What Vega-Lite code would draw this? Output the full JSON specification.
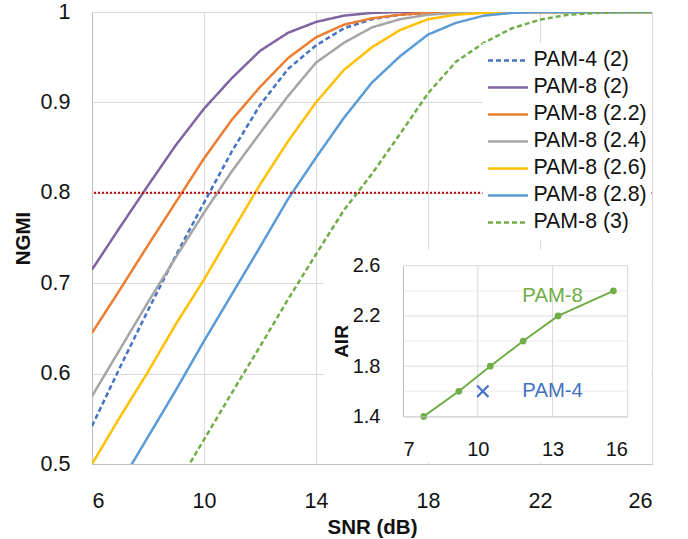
{
  "$schema": "https://vega.github.io/schema/vega-lite/v6.json",
  "width": 560,
  "height": 452,
  "autosize": "none",
  "padding": {"left": 92, "top": 12, "right": 36, "bottom": 75},
  "background": "white",
  "config": {"view": {"stroke": null}, "font": "Liberation Sans"},
  "datasets": {
    "main": [
      {"series":"PAM-4 (2)","snr":6,"ngmi":0.542},{"series":"PAM-4 (2)","snr":7,"ngmi":0.607},{"series":"PAM-4 (2)","snr":8,"ngmi":0.670},{"series":"PAM-4 (2)","snr":9,"ngmi":0.731},{"series":"PAM-4 (2)","snr":10,"ngmi":0.789},{"series":"PAM-4 (2)","snr":11,"ngmi":0.846},{"series":"PAM-4 (2)","snr":12,"ngmi":0.897},{"series":"PAM-4 (2)","snr":13,"ngmi":0.937},{"series":"PAM-4 (2)","snr":14,"ngmi":0.963},{"series":"PAM-4 (2)","snr":15,"ngmi":0.982},{"series":"PAM-4 (2)","snr":16,"ngmi":0.992},{"series":"PAM-4 (2)","snr":17,"ngmi":0.997},{"series":"PAM-4 (2)","snr":18,"ngmi":0.999},{"series":"PAM-4 (2)","snr":19,"ngmi":1},{"series":"PAM-4 (2)","snr":20,"ngmi":1},{"series":"PAM-4 (2)","snr":21,"ngmi":1},{"series":"PAM-4 (2)","snr":22,"ngmi":1},{"series":"PAM-4 (2)","snr":23,"ngmi":1},{"series":"PAM-4 (2)","snr":24,"ngmi":1},{"series":"PAM-4 (2)","snr":25,"ngmi":1},{"series":"PAM-4 (2)","snr":26,"ngmi":1},
      {"series":"PAM-8 (2)","snr":6,"ngmi":0.715},{"series":"PAM-8 (2)","snr":7,"ngmi":0.762},{"series":"PAM-8 (2)","snr":8,"ngmi":0.808},{"series":"PAM-8 (2)","snr":9,"ngmi":0.853},{"series":"PAM-8 (2)","snr":10,"ngmi":0.893},{"series":"PAM-8 (2)","snr":11,"ngmi":0.927},{"series":"PAM-8 (2)","snr":12,"ngmi":0.957},{"series":"PAM-8 (2)","snr":13,"ngmi":0.977},{"series":"PAM-8 (2)","snr":14,"ngmi":0.989},{"series":"PAM-8 (2)","snr":15,"ngmi":0.996},{"series":"PAM-8 (2)","snr":16,"ngmi":0.999},{"series":"PAM-8 (2)","snr":17,"ngmi":1},{"series":"PAM-8 (2)","snr":18,"ngmi":1},{"series":"PAM-8 (2)","snr":19,"ngmi":1},{"series":"PAM-8 (2)","snr":20,"ngmi":1},{"series":"PAM-8 (2)","snr":21,"ngmi":1},{"series":"PAM-8 (2)","snr":22,"ngmi":1},{"series":"PAM-8 (2)","snr":23,"ngmi":1},{"series":"PAM-8 (2)","snr":24,"ngmi":1},{"series":"PAM-8 (2)","snr":25,"ngmi":1},{"series":"PAM-8 (2)","snr":26,"ngmi":1},
      {"series":"PAM-8 (2.2)","snr":6,"ngmi":0.645},{"series":"PAM-8 (2.2)","snr":7,"ngmi":0.693},{"series":"PAM-8 (2.2)","snr":8,"ngmi":0.742},{"series":"PAM-8 (2.2)","snr":9,"ngmi":0.790},{"series":"PAM-8 (2.2)","snr":10,"ngmi":0.838},{"series":"PAM-8 (2.2)","snr":11,"ngmi":0.881},{"series":"PAM-8 (2.2)","snr":12,"ngmi":0.917},{"series":"PAM-8 (2.2)","snr":13,"ngmi":0.949},{"series":"PAM-8 (2.2)","snr":14,"ngmi":0.972},{"series":"PAM-8 (2.2)","snr":15,"ngmi":0.986},{"series":"PAM-8 (2.2)","snr":16,"ngmi":0.993},{"series":"PAM-8 (2.2)","snr":17,"ngmi":0.997},{"series":"PAM-8 (2.2)","snr":18,"ngmi":0.999},{"series":"PAM-8 (2.2)","snr":19,"ngmi":1},{"series":"PAM-8 (2.2)","snr":20,"ngmi":1},{"series":"PAM-8 (2.2)","snr":21,"ngmi":1},{"series":"PAM-8 (2.2)","snr":22,"ngmi":1},{"series":"PAM-8 (2.2)","snr":23,"ngmi":1},{"series":"PAM-8 (2.2)","snr":24,"ngmi":1},{"series":"PAM-8 (2.2)","snr":25,"ngmi":1},{"series":"PAM-8 (2.2)","snr":26,"ngmi":1},
      {"series":"PAM-8 (2.4)","snr":6,"ngmi":0.575},{"series":"PAM-8 (2.4)","snr":7,"ngmi":0.627},{"series":"PAM-8 (2.4)","snr":8,"ngmi":0.679},{"series":"PAM-8 (2.4)","snr":9,"ngmi":0.729},{"series":"PAM-8 (2.4)","snr":10,"ngmi":0.778},{"series":"PAM-8 (2.4)","snr":11,"ngmi":0.824},{"series":"PAM-8 (2.4)","snr":12,"ngmi":0.866},{"series":"PAM-8 (2.4)","snr":13,"ngmi":0.907},{"series":"PAM-8 (2.4)","snr":14,"ngmi":0.944},{"series":"PAM-8 (2.4)","snr":15,"ngmi":0.966},{"series":"PAM-8 (2.4)","snr":16,"ngmi":0.983},{"series":"PAM-8 (2.4)","snr":17,"ngmi":0.992},{"series":"PAM-8 (2.4)","snr":18,"ngmi":0.997},{"series":"PAM-8 (2.4)","snr":19,"ngmi":0.999},{"series":"PAM-8 (2.4)","snr":20,"ngmi":1},{"series":"PAM-8 (2.4)","snr":21,"ngmi":1},{"series":"PAM-8 (2.4)","snr":22,"ngmi":1},{"series":"PAM-8 (2.4)","snr":23,"ngmi":1},{"series":"PAM-8 (2.4)","snr":24,"ngmi":1},{"series":"PAM-8 (2.4)","snr":25,"ngmi":1},{"series":"PAM-8 (2.4)","snr":26,"ngmi":1},
      {"series":"PAM-8 (2.6)","snr":6,"ngmi":0.500},{"series":"PAM-8 (2.6)","snr":7,"ngmi":0.552},{"series":"PAM-8 (2.6)","snr":8,"ngmi":0.602},{"series":"PAM-8 (2.6)","snr":9,"ngmi":0.655},{"series":"PAM-8 (2.6)","snr":10,"ngmi":0.704},{"series":"PAM-8 (2.6)","snr":11,"ngmi":0.757},{"series":"PAM-8 (2.6)","snr":12,"ngmi":0.809},{"series":"PAM-8 (2.6)","snr":13,"ngmi":0.857},{"series":"PAM-8 (2.6)","snr":14,"ngmi":0.900},{"series":"PAM-8 (2.6)","snr":15,"ngmi":0.936},{"series":"PAM-8 (2.6)","snr":16,"ngmi":0.961},{"series":"PAM-8 (2.6)","snr":17,"ngmi":0.980},{"series":"PAM-8 (2.6)","snr":18,"ngmi":0.992},{"series":"PAM-8 (2.6)","snr":19,"ngmi":0.997},{"series":"PAM-8 (2.6)","snr":20,"ngmi":0.999},{"series":"PAM-8 (2.6)","snr":21,"ngmi":1},{"series":"PAM-8 (2.6)","snr":22,"ngmi":1},{"series":"PAM-8 (2.6)","snr":23,"ngmi":1},{"series":"PAM-8 (2.6)","snr":24,"ngmi":1},{"series":"PAM-8 (2.6)","snr":25,"ngmi":1},{"series":"PAM-8 (2.6)","snr":26,"ngmi":1},
      {"series":"PAM-8 (2.8)","snr":6,"ngmi":0.425},{"series":"PAM-8 (2.8)","snr":7,"ngmi":0.478},{"series":"PAM-8 (2.8)","snr":8,"ngmi":0.530},{"series":"PAM-8 (2.8)","snr":9,"ngmi":0.582},{"series":"PAM-8 (2.8)","snr":10,"ngmi":0.636},{"series":"PAM-8 (2.8)","snr":11,"ngmi":0.688},{"series":"PAM-8 (2.8)","snr":12,"ngmi":0.740},{"series":"PAM-8 (2.8)","snr":13,"ngmi":0.793},{"series":"PAM-8 (2.8)","snr":14,"ngmi":0.839},{"series":"PAM-8 (2.8)","snr":15,"ngmi":0.883},{"series":"PAM-8 (2.8)","snr":16,"ngmi":0.922},{"series":"PAM-8 (2.8)","snr":17,"ngmi":0.951},{"series":"PAM-8 (2.8)","snr":18,"ngmi":0.975},{"series":"PAM-8 (2.8)","snr":19,"ngmi":0.988},{"series":"PAM-8 (2.8)","snr":20,"ngmi":0.996},{"series":"PAM-8 (2.8)","snr":21,"ngmi":0.999},{"series":"PAM-8 (2.8)","snr":22,"ngmi":1},{"series":"PAM-8 (2.8)","snr":23,"ngmi":1},{"series":"PAM-8 (2.8)","snr":24,"ngmi":1},{"series":"PAM-8 (2.8)","snr":25,"ngmi":1},{"series":"PAM-8 (2.8)","snr":26,"ngmi":1},
      {"series":"PAM-8 (3)","snr":6,"ngmi":0.330},{"series":"PAM-8 (3)","snr":7,"ngmi":0.375},{"series":"PAM-8 (3)","snr":8,"ngmi":0.425},{"series":"PAM-8 (3)","snr":9,"ngmi":0.475},{"series":"PAM-8 (3)","snr":10,"ngmi":0.527},{"series":"PAM-8 (3)","snr":11,"ngmi":0.579},{"series":"PAM-8 (3)","snr":12,"ngmi":0.630},{"series":"PAM-8 (3)","snr":13,"ngmi":0.682},{"series":"PAM-8 (3)","snr":14,"ngmi":0.732},{"series":"PAM-8 (3)","snr":15,"ngmi":0.781},{"series":"PAM-8 (3)","snr":16,"ngmi":0.821},{"series":"PAM-8 (3)","snr":17,"ngmi":0.865},{"series":"PAM-8 (3)","snr":18,"ngmi":0.910},{"series":"PAM-8 (3)","snr":19,"ngmi":0.945},{"series":"PAM-8 (3)","snr":20,"ngmi":0.966},{"series":"PAM-8 (3)","snr":21,"ngmi":0.982},{"series":"PAM-8 (3)","snr":22,"ngmi":0.9915},{"series":"PAM-8 (3)","snr":23,"ngmi":0.997},{"series":"PAM-8 (3)","snr":24,"ngmi":0.999},{"series":"PAM-8 (3)","snr":25,"ngmi":1},{"series":"PAM-8 (3)","snr":26,"ngmi":1}
    ],
    "air8": [
      {"snr":7.83,"air":1.4},{"snr":9.24,"air":1.6},{"snr":10.5,"air":1.8},{"snr":11.82,"air":2.0},{"snr":13.22,"air":2.2},{"snr":15.44,"air":2.4}
    ],
    "air4": [{"snr":10.2,"air":1.6}],
    "igridx": [{"g":10},{"g":13},{"g":16}],
    "igridmajor": [{"a":1.8},{"a":2.2},{"a":2.6}],
    "igridminor": [{"a":1.6},{"a":2.0},{"a":2.4}]
  },
  "layer": [
    {
      "layer": [
        {
          "data": {"name": "main"},
          "mark": {"type": "line", "strokeWidth": 2.5, "clip": true},
          "encoding": {
            "x": {
              "field": "snr", "type": "quantitative",
              "scale": {"domain": [6, 26], "nice": false, "zero": false},
              "axis": {
                "values": [6, 10, 14, 18, 22, 26], "title": "SNR (dB)",
                "grid": true, "gridColor": "#D9D9D9", "domainColor": "#BFBFBF",
                "ticks": false, "tickSize": 0,
                "labelFontSize": 21.5, "labelColor": "#111", "labelPadding": 26, "labelBaseline": "top",
                "titleFontSize": 20.5, "titleFontWeight": "bold", "titleColor": "#111",
                "titleX": 280, "titleY": 69.7, "titleBaseline": "alphabetic", "titleAlign": "center"
              }
            },
            "y": {
              "field": "ngmi", "type": "quantitative",
              "scale": {"domain": [0.5, 1], "nice": false, "zero": false},
              "axis": {
                "values": [0.5, 0.6, 0.7, 0.8, 0.9, 1], "format": ".1~f", "title": "NGMI",
                "grid": true, "gridColor": "#D9D9D9", "domainColor": "#BFBFBF",
                "ticks": false, "tickSize": 0,
                "labelFontSize": 21.5, "labelColor": "#111", "labelPadding": 22,
                "titleFontSize": 20.5, "titleFontWeight": "bold", "titleColor": "#111",
                "titleX": -62.3, "titleY": 226, "titleAngle": -90, "titleBaseline": "alphabetic", "titleAlign": "center"
              }
            },
            "color": {
              "field": "series", "type": "nominal",
              "scale": {
                "domain": ["PAM-4 (2)", "PAM-8 (2)", "PAM-8 (2.2)", "PAM-8 (2.4)", "PAM-8 (2.6)", "PAM-8 (2.8)", "PAM-8 (3)"],
                "range": ["#4472C4", "#8064A2", "#ED7D31", "#A5A5A5", "#FFC000", "#5B9BD5", "#70AD47"]
              },
              "legend": {
                "orient": "none", "legendX": 390.5, "legendY": 31, "fillColor": "white", "padding": 4,
                "title": null, "symbolType": "stroke", "symbolSize": 1600, "symbolStrokeWidth": 2.5,
                "labelFontSize": 21.3, "labelColor": "#111", "labelOffset": 4, "labelLimit": 0,
                "rowPadding": 0, "clipHeight": 26.8
              }
            },
            "strokeDash": {
              "field": "series", "type": "nominal",
              "scale": {
                "domain": ["PAM-4 (2)", "PAM-8 (2)", "PAM-8 (2.2)", "PAM-8 (2.4)", "PAM-8 (2.6)", "PAM-8 (2.8)", "PAM-8 (3)"],
                "range": [[5, 3], [1, 0], [1, 0], [1, 0], [1, 0], [1, 0], [5, 3]]
              },
              "legend": {
                "orient": "none", "legendX": 390.5, "legendY": 31, "fillColor": "white", "padding": 4,
                "title": null, "symbolType": "stroke", "symbolSize": 1600, "symbolStrokeWidth": 2.5,
                "labelFontSize": 21.3, "labelColor": "#111", "labelOffset": 4, "labelLimit": 0,
                "rowPadding": 0, "clipHeight": 26.8
              }
            }
          }
        },
        {
          "data": {"values": [{}]},
          "mark": {"type": "rule", "color": "#C00000", "strokeWidth": 2, "strokeDash": [2, 2]},
          "encoding": {"y": {"datum": 0.8, "type": "quantitative"}}
        },
        {
          "data": {"values": [{}]},
          "mark": {"type": "rect", "fill": "white"},
          "encoding": {
            "x": {"datum": 14.3, "type": "quantitative"},
            "x2": {"datum": 25.97},
            "y": {"datum": 0.502, "type": "quantitative"},
            "y2": {"datum": 0.737}
          }
        }
      ]
    },
    {
      "layer": [
        {
          "data": {"name": "igridx"},
          "mark": {"type": "rule", "color": "#D9D9D9", "strokeWidth": 1},
          "encoding": {
            "x": {"field": "g", "type": "quantitative"},
            "y": {"datum": 1.4, "type": "quantitative"},
            "y2": {"datum": 2.6}
          }
        },
        {
          "data": {"name": "igridminor"},
          "mark": {"type": "rule", "color": "#ECECEC", "strokeWidth": 1},
          "encoding": {
            "y": {"field": "a", "type": "quantitative"},
            "x": {"datum": 7, "type": "quantitative"},
            "x2": {"datum": 16}
          }
        },
        {
          "data": {"name": "igridmajor"},
          "mark": {"type": "rule", "color": "#D9D9D9", "strokeWidth": 1},
          "encoding": {
            "y": {"field": "a", "type": "quantitative"},
            "x": {"datum": 7, "type": "quantitative"},
            "x2": {"datum": 16}
          }
        },
        {
          "data": {"name": "air8"},
          "mark": {"type": "line", "color": "#70AD47", "strokeWidth": 2, "point": {"filled": true, "size": 45, "color": "#70AD47"}},
          "encoding": {
            "x": {
              "field": "snr", "type": "quantitative",
              "scale": {"domain": [7, 16], "range": [311, 535.4], "nice": false, "zero": false},
              "axis": {
                "orient": "bottom", "offset": -47.6, "values": [7, 10, 13, 16], "format": "d", "title": null, "zindex": 1,
                "grid": false, "domainColor": "#BFBFBF", "ticks": false, "tickSize": 0,
                "labelFontSize": 20, "labelColor": "#111", "labelPadding": 23.5, "labelBaseline": "top"
              }
            },
            "y": {
              "field": "air", "type": "quantitative",
              "scale": {"domain": [1.4, 2.6], "range": [404.4, 253.7], "nice": false, "zero": false},
              "axis": {
                "orient": "left", "offset": -311, "values": [1.4, 1.8, 2.2, 2.6], "format": ".1f", "zindex": 1,
                "title": "AIR", "grid": false,
                "domainColor": "#BFBFBF", "ticks": false, "tickSize": 0,
                "labelFontSize": 20, "labelColor": "#111", "labelPadding": 23,
                "titleFontSize": 19, "titleFontWeight": "bold", "titleColor": "#111",
                "titleX": -56, "titleY": 329, "titleAngle": -90, "titleBaseline": "alphabetic", "titleAlign": "center"
              }
            }
          }
        },
        {
          "data": {"name": "air4"},
          "mark": {"type": "point", "shape": "M-1,-1L1,1M-1,1L1,-1", "filled": false, "size": 130, "strokeWidth": 2.2, "color": "#4472C4", "opacity": 1},
          "encoding": {
            "x": {"field": "snr", "type": "quantitative"},
            "y": {"field": "air", "type": "quantitative"}
          }
        },
        {
          "data": {"values": [{}]},
          "mark": {"type": "text", "text": "PAM-8", "fontSize": 20.3, "color": "#70AD47", "align": "center", "baseline": "middle"},
          "encoding": {
            "x": {"datum": 13.0, "type": "quantitative"},
            "y": {"datum": 2.36, "type": "quantitative"}
          }
        },
        {
          "data": {"values": [{}]},
          "mark": {"type": "text", "text": "PAM-4", "fontSize": 20.3, "color": "#4472C4", "align": "center", "baseline": "middle"},
          "encoding": {
            "x": {"datum": 13.0, "type": "quantitative"},
            "y": {"datum": 1.6, "type": "quantitative"}
          }
        }
      ]
    }
  ],
  "resolve": {"scale": {"x": "independent", "y": "independent"}}
}
